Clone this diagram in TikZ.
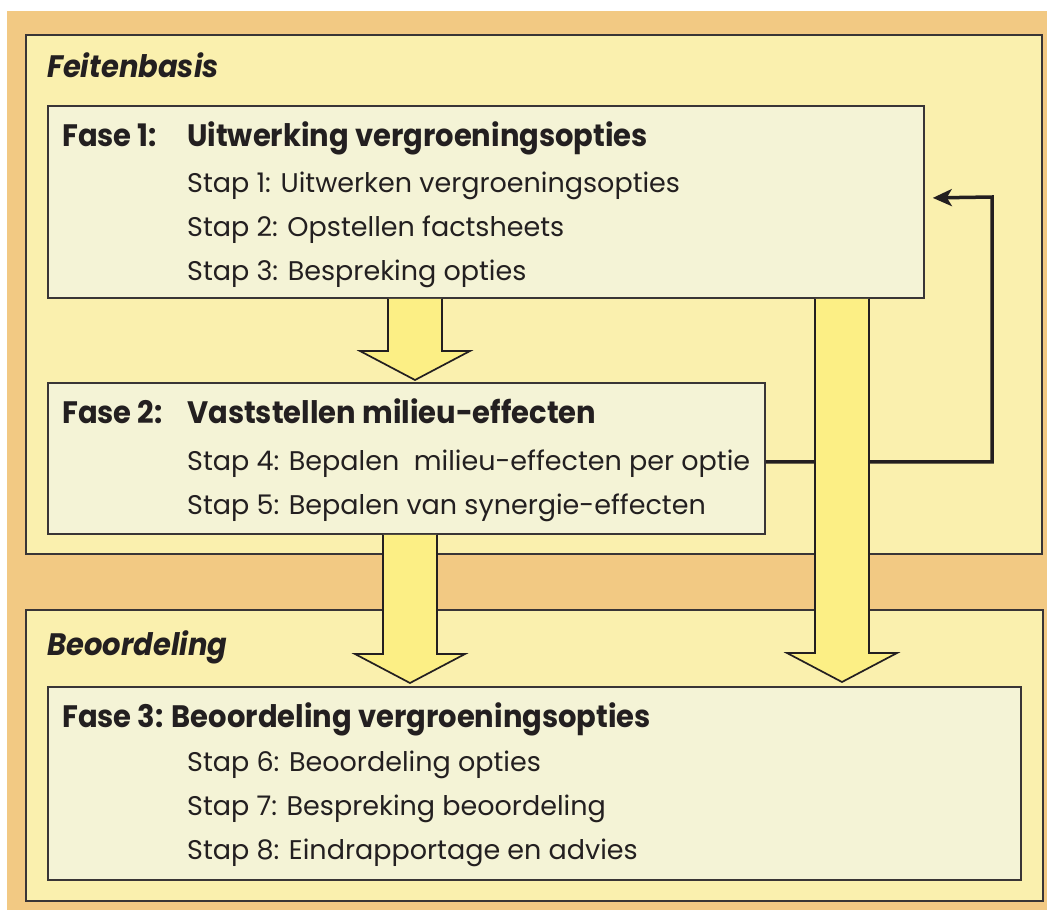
\documentclass[tikz,border=0pt]{standalone}
\usepackage{fontspec}
\setmainfont{Poppins}
\newfontfamily\headfont[FakeStretch=0.935]{Poppins}
\usetikzlibrary{arrows.meta,calc}

\definecolor{orangebg}{HTML}{F2C983}
\definecolor{panelfill}{HTML}{FAF0AE}
\definecolor{boxfill}{HTML}{F4F3D6}
\definecolor{arrowfill}{HTML}{FCEF85}
\definecolor{ink}{HTML}{231F20}

% broad block arrow from a start point (top of shaft) to a tip
\newcommand{\fatarrow}[2]{%
  \draw[blockarrow] let \p1=(#1), \p2=(#2) in
    (\x1-27pt,\y1) -- (\x1-27pt,\y2+29pt) -- (\x1-55pt,\y2+29pt) -- (\x2,\y2)
    -- (\x1+55pt,\y2+29pt) -- (\x1+27pt,\y2+29pt) -- (\x1+27pt,\y1);}

\begin{document}
\begin{tikzpicture}[x=1pt,y=-1pt,
  panel/.style={draw=ink!90, line width=2.2pt, fill=panelfill, anchor=north west, inner sep=0pt},
  phasebox/.style={draw=ink!90, line width=1.8pt, fill=boxfill, anchor=north west, inner sep=0pt},
  blockarrow/.style={draw=ink, line width=1.7pt, fill=arrowfill, line join=miter},
  feedback/.style={draw=ink, line width=3.5pt, -{Stealth[length=19pt,width=17pt,inset=5pt]}},
  txt/.style={anchor=base west, inner sep=0pt, text=ink},
  paneltitle/.style={txt, font=\headfont\fontsize{31}{31}\selectfont\bfseries\itshape},
  phasetitle/.style={txt, font=\headfont\fontsize{31}{31}\selectfont\bfseries},
  steptext/.style={txt, font=\fontsize{27}{27}\selectfont}]

\useasboundingbox (0,0) rectangle (1047,910);
\fill[white] (0,0) rectangle (1047,910);
\fill[orangebg] (7,11) rectangle (1047,910);

% the two panels
\node[panel, minimum width=1016pt, minimum height=519pt] (feiten) at (25,34) {};
\node[panel, minimum width=1017pt, minimum height=291pt] (beoord) at (25,609) {};
\node[paneltitle] (feitentitle) at (47,77) {Feitenbasis};
\node[paneltitle] (beoordtitle) at (47,655) {Beoordeling};

% phase boxes and the feedback loop from phase 2 back to phase 1
\coordinate (fbcorner) at (992,197);
\node[phasebox, minimum width=876pt, minimum height=192pt] (fase1) at (47,105) {};
\node[phasebox, minimum width=717pt, minimum height=151pt] (fase2) at (47,382) {};
\node[phasebox, minimum width=973pt, minimum height=193pt] (fase3) at (47,686) {};
\draw[feedback] ([yshift=-3.5pt]fase2.east) -| (fbcorner) -- ([xshift=8pt,yshift=4pt]fase1.east);

% phase 1
\node[phasetitle] (f1t) at (62,146) {\makebox[125pt][l]{Fase 1:}Uitwerking vergroeningsopties};
\node[steptext] (s1) at (187,192) {Stap 1: Uitwerken vergroeningsopties};
\node[steptext] (s2) at (187,236) {Stap 2: Opstellen factsheets};
\node[steptext] (s3) at (187,280) {Stap 3: Bespreking opties};

% phase 2
\node[phasetitle] (f2t) at (62,423) {\makebox[125pt][l]{Fase 2:}Vaststellen milieu-effecten};
\node[steptext] (s4) at (187,470) {Stap 4: Bepalen\ \ milieu-effecten per optie};
\node[steptext] (s5) at (187,514) {Stap 5: Bepalen van synergie-effecten};

% phase 3
\node[phasetitle] (f3t) at (62,727) {Fase 3: Beoordeling vergroeningsopties};
\node[steptext] (s6) at (187,771) {Stap 6: Beoordeling opties};
\node[steptext] (s7) at (187,815) {Stap 7: Bespreking beoordeling};
\node[steptext] (s8) at (187,859) {Stap 8: Eindrapportage en advies};

% block arrows between the phases
\coordinate (a1s) at ($(fase1.south west)+(368,0)$);
\coordinate (a1e) at ($(fase2.north west)+(368,-2)$);
\coordinate (a2s) at ($(fase2.south west)+(363,0)$);
\coordinate (a2e) at ($(fase3.north west)+(363,-3)$);
\coordinate (a3s) at ($(fase1.south west)+(795,0)$);
\coordinate (a3e) at ($(fase3.north west)+(795,-4)$);
\fatarrow{a1s}{a1e}
\fatarrow{a2s}{a2e}
\fatarrow{a3s}{a3e}
\end{tikzpicture}
\end{document}
